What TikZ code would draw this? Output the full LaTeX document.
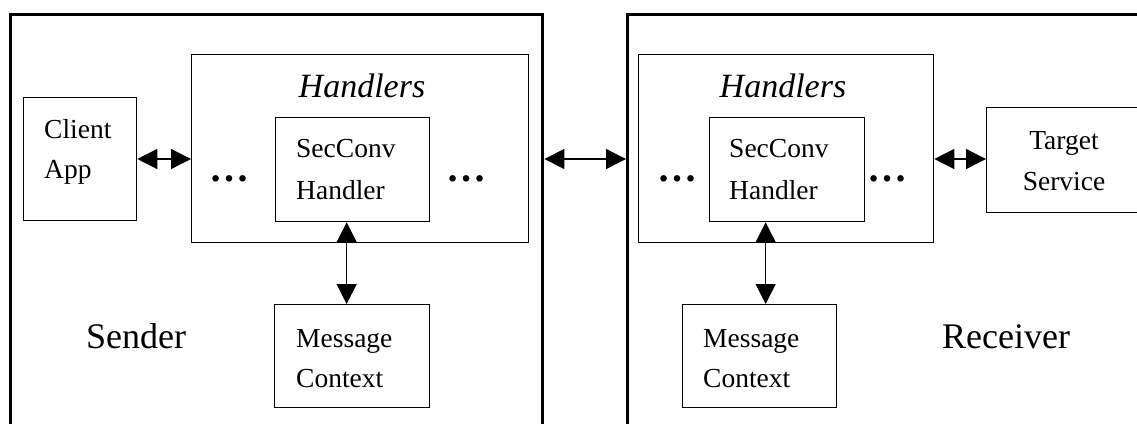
\documentclass[tikz,border=0pt]{standalone}
\usepackage{fontspec}
\setmainfont{Liberation Serif}
\usetikzlibrary{arrows.meta}

\tikzset{
  outer/.style={draw, line width=3.4pt, inner sep=0pt, anchor=north west},
  box/.style={draw, line width=1.3pt, inner sep=0pt, anchor=north west},
  lbl/.style={font=\fontsize{27.5}{40}\selectfont, inner sep=0pt, anchor=base west},
  clbl/.style={font=\fontsize{27.5}{40}\selectfont, inner sep=0pt, anchor=base},
  side/.style={font=\fontsize{36}{40}\selectfont, inner sep=0pt, anchor=base},
  hdl/.style={font=\fontsize{34}{40}\selectfont\itshape, inner sep=0pt, anchor=base},
  ell/.style={font=\fontsize{40}{40}\selectfont\bfseries, inner sep=0pt, anchor=base},
  link/.style={line width=1.3pt,
    {Triangle[length=20pt,width=20pt]}-{Triangle[length=20pt,width=20pt]}},
}

\begin{document}
\begin{tikzpicture}[x=1pt, y=-1pt]
  \useasboundingbox (0,0) rectangle (1137,423);
  \clip (0,0) rectangle (1137,423);

  % --- sender side ---
  \node[outer, minimum width=532pt, minimum height=480pt] (sender) at (9,13) {};
  \node[box, minimum width=113pt, minimum height=123pt] (client) at (23,97) {};
  \node[box, minimum width=337pt, minimum height=188pt] (sH) at (191,54) {};
  \node[box, minimum width=154pt, minimum height=104pt] (sSec) at (275,117) {};
  \node[box, minimum width=155pt, minimum height=103pt] (sMC) at (274,304) {};

  \node[lbl] (clientA) at (44,138) {Client};
  \node[lbl] (clientB) at (44,178) {App};
  \node[hdl] (sHt) at (362,97) {Handlers};
  \node[lbl] (sSecA) at (296,157) {SecConv};
  \node[lbl] (sSecB) at (296,199) {Handler};
  \node[lbl] (sMCA) at (296,347) {Message};
  \node[lbl] (sMCB) at (296,387) {Context};
  \node[ell] (sDotsL) at (229,181) {…};
  \node[ell] (sDotsR) at (466,181) {…};
  \node[side] (senderT) at (136,348) {Sender};

  % --- receiver side ---
  \node[outer, minimum width=600pt, minimum height=480pt] (receiver) at (626,13) {};
  \node[box, minimum width=295pt, minimum height=188pt] (rH) at (638,54) {};
  \node[box, minimum width=155pt, minimum height=104pt] (rSec) at (709,117) {};
  \node[box, minimum width=154pt, minimum height=103pt] (rMC) at (682,304) {};
  \node[box, minimum width=200pt, minimum height=105pt] (target) at (986,107) {};

  \node[hdl] (rHt) at (783,97) {Handlers};
  \node[lbl] (rSecA) at (729,157) {SecConv};
  \node[lbl] (rSecB) at (729,199) {Handler};
  \node[lbl] (rMCA) at (703,347) {Message};
  \node[lbl] (rMCB) at (703,387) {Context};
  \node[clbl] (targetA) at (1064,149) {Target};
  \node[clbl] (targetB) at (1064,190) {Service};
  \node[ell] (rDotsL) at (677,181) {…};
  \node[ell] (rDotsR) at (887,181) {…};
  \node[side] (receiverT) at (1006,348) {Receiver};

  % --- connectors ---
  \coordinate (lane) at (0,159);
  \draw[link] (client.east |- lane) -- (sH.west |- lane);
  \draw[link] (sender.east |- lane) -- (receiver.west |- lane);
  \draw[link] (rH.east |- lane) -- (target.west |- lane);
  \draw[link] ([xshift=-6pt]sSec.south) -- ([xshift=-6pt]sSec.south |- sMC.north);
  \draw[link] ([xshift=-21.5pt]rSec.south) -- ([xshift=-21.5pt]rSec.south |- rMC.north);
\end{tikzpicture}
\end{document}
